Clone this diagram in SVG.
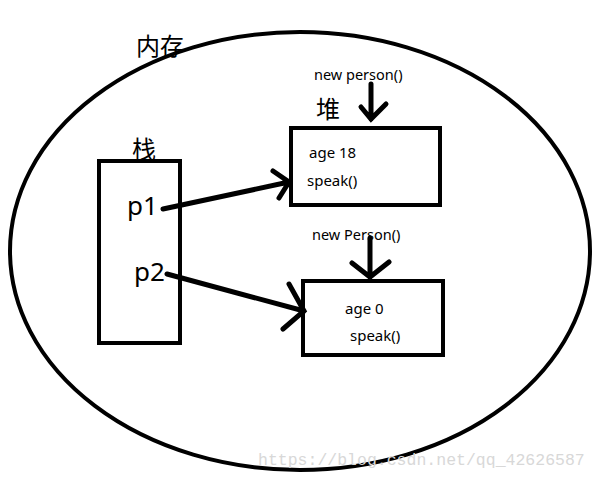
<svg xmlns="http://www.w3.org/2000/svg" width="598" height="479" viewBox="0 0 598 479">
<style>
.s{fill:none;stroke:#000;stroke-width:4}
.a{fill:none;stroke:#000;stroke-width:5;stroke-linecap:round}
.t{font-family:"Noto Sans","Noto Sans CJK SC",sans-serif;fill:#000}
.c{font-family:"Noto Sans CJK SC",sans-serif;font-size:24px;fill:#000}
.w{font-family:"Liberation Mono",monospace;font-size:16.5px;fill:#d8d8d8}
</style>
<rect width="598" height="479" fill="#fff"/>
<g id="memory">
<ellipse class="s" cx="300" cy="251" rx="290" ry="219"/>
<text class="c" x="136" y="55">内存</text>
</g>
<g id="stack">
<rect class="s" x="99" y="161" width="81" height="182"/>
<text class="c" x="132" y="158">栈</text>
<text class="t" x="127" y="215" font-size="26">p1</text>
<text class="t" x="134" y="281" font-size="26">p2</text>
</g>
<g id="heap-label"><text class="c" x="316" y="118">堆</text></g>
<g id="person1">
<rect class="s" x="291" y="128" width="149" height="77"/>
<text class="t" x="309" y="158" font-size="15">age 18</text>
<text class="t" x="307" y="186" font-size="15">speak()</text>
</g>
<g id="person2">
<rect class="s" x="303" y="281" width="140" height="74"/>
<text class="t" x="345" y="314" font-size="15">age 0</text>
<text class="t" x="350" y="341" font-size="15">speak()</text>
</g>
<g id="new1"><text class="t" x="314" y="80" font-size="14.5">new person()</text></g>
<g id="new2"><text class="t" x="312" y="240" font-size="14.5">new Person()</text></g>
<g id="connectors">
<path class="a" d="M163 209 L289 182 M273 171 L289 182 L279 198"/>
<path class="a" d="M167 274 L304 311 M289 284 L304 311 L283 329"/>
<path class="a" d="M371 84 L371 119 M361 107 L371 119 L386 104"/>
<path class="a" d="M370 238 L370 277 M352 263 L370 277 L389 262"/>
</g>
<text class="w" x="258" y="465">https://blog.csdn.net/qq_42626587</text>
</svg>
